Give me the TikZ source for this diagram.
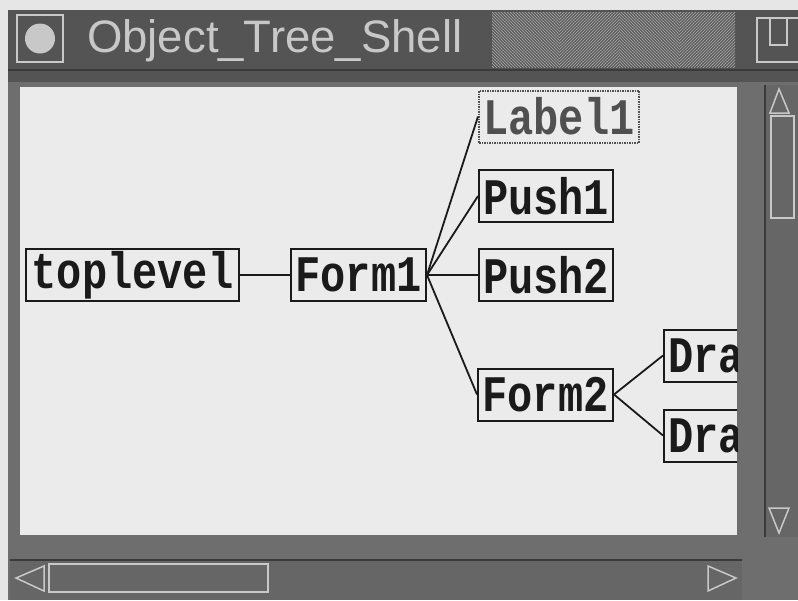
\documentclass[tikz,border=0pt]{standalone}
\usepackage{fontspec}
\newfontfamily\titlefont{Liberation Sans}
\newfontfamily\nodefont{Liberation Mono}
\usetikzlibrary{patterns}
\definecolor{paper}{HTML}{E6E6E6}
\definecolor{framegray}{HTML}{6E6E6E}
\definecolor{troughgray}{HTML}{666666}
\definecolor{titlegray}{HTML}{545454}
\definecolor{hatchbase}{HTML}{5E5E5E}
\definecolor{hatchline}{HTML}{A8A8A8}
\definecolor{canvasgray}{HTML}{EBEBEB}
\definecolor{chrome}{HTML}{C8C8C8}
\definecolor{darkline}{HTML}{3A3A3A}
\definecolor{ink}{HTML}{1A1A1A}
\definecolor{stipple}{HTML}{505050}
\newcommand{\wt}[1]{\scalebox{1}[1.22]{#1}}
\tikzset{
  objbox/.style={draw=ink, line width=2pt, text=ink, inner xsep=4pt, inner ysep=0pt,
    minimum height=52pt, anchor=west,
    font=\nodefont\bfseries\fontsize{42}{44}\selectfont},
  dimbox/.style={objbox, draw=stipple, text=stipple, dash pattern=on 1.5pt off 1pt},
  cutbox/.style={objbox, text width=150pt, align=left},
  edge/.style={draw=ink, line width=1.8pt},
  chromeline/.style={draw=chrome, line width=2pt},
}
\begin{document}
\begin{tikzpicture}[x=1pt, y=-1pt]
\useasboundingbox (0,0) rectangle (798,600);
% background and frame
\fill[paper] (0,0) rectangle (798,600);
\fill[framegray] (8,10) rectangle (798,600);
\fill[titlegray] (8,10) rectangle (798,82);
\draw[darkline, line width=2pt] (8,70) -- (798,70);
% hatched part of title bar
\fill[hatchbase] (492,12) rectangle (735,67);
\fill[pattern=north west lines, pattern color=hatchline] (492,12) rectangle (560,67);
\fill[pattern=north east lines, pattern color=hatchline] (560,12) rectangle (620,67);
\fill[pattern=north west lines, pattern color=hatchline] (620,12) rectangle (680,67);
\fill[pattern=north east lines, pattern color=hatchline] (680,12) rectangle (735,67);
% title icon
\draw[chromeline, line width=2.5pt] (17,15) rectangle (63,62);
\fill[chrome] (40,38.5) circle (15);
% title text
\node[anchor=base west, text=chrome, inner sep=0pt,
      font=\titlefont\fontsize{45.5}{46}\selectfont] (title) at (87,52) {Object\_Tree\_Shell};
% right title button
\draw[chromeline] (798,18) -- (757,18) -- (757,62) -- (798,62);
\draw[chromeline] (770,18) -- (770,45) -- (787,45) -- (787,18);
% vertical scrollbar
\fill[troughgray] (765,85) rectangle (798,537);
\draw[darkline, line width=2pt] (765,85) -- (765,537);
\draw[chrome, line width=1.5pt] (779,89) -- (770,113) -- (789,113) -- cycle;
\draw[chrome, line width=1.5pt] (771,116) rectangle (794,218);
\draw[chrome, line width=1.5pt] (779,533) -- (769,508) -- (789,508) -- cycle;
% horizontal scrollbar
\fill[troughgray] (10,560) rectangle (742,600);
\draw[darkline, line width=2pt] (10,560) -- (742,560);
\draw[chrome, line width=1.5pt] (16,578) -- (44,566) -- (44,591) -- cycle;
\draw[chrome, line width=1.5pt] (49,564) rectangle (268,592);
\draw[chrome, line width=1.5pt] (736,578) -- (708,566) -- (708,591) -- cycle;
% canvas
\fill[canvasgray] (20,87) rectangle (737,535);
\begin{scope}
\clip (20,87) rectangle (737,535);
\node[objbox, minimum width=213pt] (top) at (25,275) {\wt{toplevel}};
\node[objbox, minimum width=135pt] (f1) at (290,275) {\wt{Form1}};
\node[dimbox, minimum width=160pt] (lab) at (478,116.5) {\wt{Label1}};
\node[objbox, minimum width=134pt] (p1) at (478,196) {\wt{Push1}};
\node[objbox, minimum width=134pt] (p2) at (478,275) {\wt{Push2}};
\node[objbox, minimum width=135pt] (f2) at (477,394.5) {\wt{Form2}};
\node[cutbox] (d1) at (663,355.5) {\wt{Dra}};
\node[cutbox] (d2) at (663,435.5) {\wt{Dra}};
\draw[edge] (top.east) -- (f1.west);
\draw[edge] (f1.east) -- (lab.west);
\draw[edge] (f1.east) -- (p1.west);
\draw[edge] (f1.east) -- (p2.west);
\draw[edge] (f1.east) -- (f2.west);
\draw[edge] (f2.east) -- (d1.west);
\draw[edge] (f2.east) -- (d2.west);
\end{scope}
\end{tikzpicture}
\end{document}
